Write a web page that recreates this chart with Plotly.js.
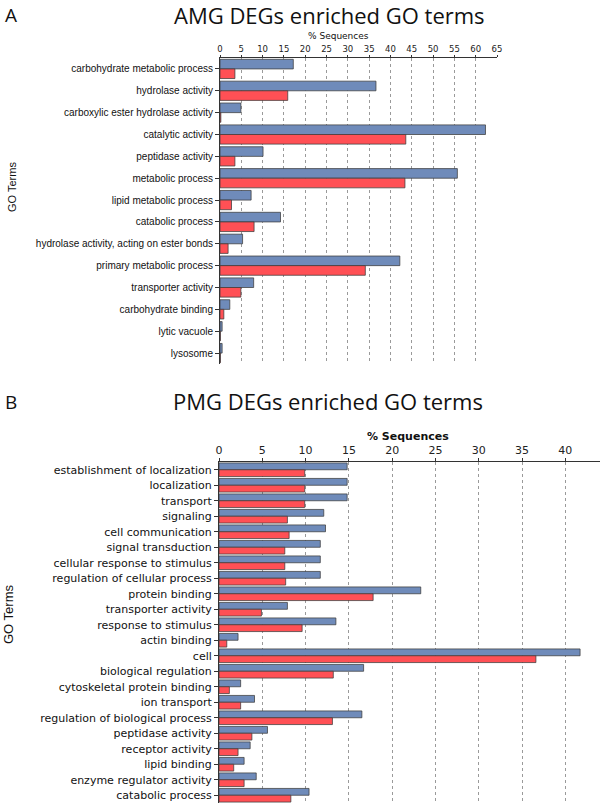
<!DOCTYPE html>
<html>
<head>
<meta charset="utf-8">
<script src="https://cdn.plot.ly/plotly-3.0.1.min.js"></script>
<style>html,body{margin:0;padding:0;background:#fff;}#chart{width:600px;height:803px;}</style>
</head>
<body>
<div id="chart"></div>
<script>
// ---- Data: panel A (AMG) ----
var amgTerms = [
  "carbohydrate metabolic process",
  "hydrolase activity",
  "carboxylic ester hydrolase activity",
  "catalytic activity",
  "peptidase activity",
  "metabolic process",
  "lipid metabolic process",
  "catabolic process",
  "hydrolase activity, acting on ester bonds",
  "primary metabolic process",
  "transporter activity",
  "carbohydrate binding",
  "lytic vacuole",
  "lysosome"
];
var amgBlue = [17.2, 36.6, 4.9, 62.3, 10.1, 55.7, 7.3, 14.2, 5.3, 42.2, 7.9, 2.3, 0.5, 0.5];
var amgRed  = [3.5, 15.9, 0.2, 43.6, 3.5, 43.4, 2.7, 8.0, 1.9, 34.1, 4.9, 0.9, 0.1, 0.1];
var amgTicks = [0,5,10,15,20,25,30,35,40,45,50,55,60,65];

// ---- Data: panel B (PMG) ----
var pmgTerms = [
  "establishment of localization",
  "localization",
  "transport",
  "signaling",
  "cell communication",
  "signal transduction",
  "cellular response to stimulus",
  "regulation of cellular process",
  "protein binding",
  "transporter activity",
  "response to stimulus",
  "actin binding",
  "cell",
  "biological regulation",
  "cytoskeletal protein binding",
  "ion transport",
  "regulation of biological process",
  "peptidase activity",
  "receptor activity",
  "lipid binding",
  "enzyme regulator activity",
  "catabolic process"
];
var pmgBlue = [14.8, 14.8, 14.8, 12.1, 12.3, 11.7, 11.7, 11.7, 23.3, 7.9, 13.5, 2.2, 41.7, 16.7, 2.5, 4.1, 16.5, 5.6, 3.6, 2.9, 4.3, 10.4];
var pmgRed  = [9.9, 9.9, 9.9, 7.9, 8.1, 7.6, 7.6, 7.7, 17.8, 4.9, 9.6, 0.9, 36.6, 13.2, 1.2, 2.5, 13.1, 3.8, 2.2, 1.7, 2.9, 8.3];
var pmgTicks = [0,5,10,15,20,25,30,35,40];

// ---- styling helpers ----
var W = 600, H = 803;
function px(x){ return x / W; }
function py(y){ return 1 - y / H; }
var BLUE = "#6F8BBA", RED = "#FF5055";
var OUT = "rgba(60,60,60,0.75)";

var traces = [
  {type:"bar", orientation:"h", y:amgTerms, x:amgBlue, xaxis:"x", yaxis:"y",
   marker:{color:BLUE, line:{color:OUT, width:1}}, hoverinfo:"x+y"},
  {type:"bar", orientation:"h", y:amgTerms, x:amgRed, xaxis:"x", yaxis:"y",
   marker:{color:RED, line:{color:OUT, width:1}}, hoverinfo:"x+y"},
  {type:"bar", orientation:"h", y:pmgTerms, x:pmgBlue, xaxis:"x2", yaxis:"y2",
   marker:{color:BLUE, line:{color:OUT, width:1}}, hoverinfo:"x+y"},
  {type:"bar", orientation:"h", y:pmgTerms, x:pmgRed, xaxis:"x2", yaxis:"y2",
   marker:{color:RED, line:{color:OUT, width:1}}, hoverinfo:"x+y"}
];

var gridStyle = {showgrid:true, gridcolor:"#9a9a9a", griddash:"dot", gridwidth:1};

var layout = {
  width: W, height: H,
  margin:{l:0, r:0, t:0, b:0},
  paper_bgcolor:"#fff", plot_bgcolor:"#fff",
  showlegend:false,
  barmode:"group", bargap:0.12, bargroupgap:0,
  font:{family:"DejaVu Sans, sans-serif", color:"#111"},
  xaxis: Object.assign({
    domain:[px(220), px(497)], range:[0,65], side:"top", anchor:"y",
    tickmode:"array", tickvals:amgTicks, ticktext:amgTicks.map(String),
    ticks:"outside", ticklen:2, tickcolor:"#333",
    showline:true, linecolor:"#333", linewidth:1, zeroline:false,
    tickfont:{family:"DejaVu Sans", size:8.5, color:"#222"}
  }, gridStyle),
  yaxis: {
    domain:[py(364), py(58)], autorange:"reversed", anchor:"x",
    type:"category", ticks:"outside", ticklen:4, tickcolor:"#333",
    showline:true, linecolor:"#333", linewidth:1, showgrid:false,
    tickfont:{family:"Liberation Sans", size:10, color:"#111"}
  },
  xaxis2: Object.assign({
    domain:[px(219), 1], range:[0,44], side:"top", anchor:"y2",
    tickmode:"array", tickvals:pmgTicks, ticktext:pmgTicks.map(String),
    ticks:"outside", ticklen:3, tickcolor:"#333",
    showline:true, linecolor:"#333", linewidth:1, zeroline:false,
    tickfont:{family:"DejaVu Sans", size:11, color:"#222"}
  }, gridStyle),
  yaxis2: {
    domain:[0, py(462)], autorange:"reversed", anchor:"x2",
    type:"category", ticks:"outside", ticklen:4, tickcolor:"#333",
    showline:true, linecolor:"#333", linewidth:1, showgrid:false,
    tickfont:{family:"DejaVu Sans", size:11, color:"#111"}
  },
  annotations:[
    {text:"A", xref:"paper", yref:"paper", x:px(3), y:py(15), xanchor:"left", yanchor:"middle",
     showarrow:false, font:{family:"Open Sans", size:19, color:"#111"}},
    {text:"AMG DEGs enriched GO terms", xref:"paper", yref:"paper", x:px(329), y:py(15), xanchor:"center", yanchor:"middle",
     showarrow:false, font:{family:"Open Sans", size:22, color:"#111"}},
    {text:"% Sequences", xref:"paper", yref:"paper", x:px(338), y:py(36), xanchor:"center", yanchor:"middle",
     showarrow:false, font:{family:"DejaVu Sans", size:9, color:"#111"}},
    {text:"GO Terms", xref:"paper", yref:"paper", x:px(12), y:py(187), xanchor:"center", yanchor:"middle",
     textangle:-90, showarrow:false, font:{family:"Liberation Sans", size:11, color:"#111"}},
    {text:"B", xref:"paper", yref:"paper", x:px(3), y:py(402), xanchor:"left", yanchor:"middle",
     showarrow:false, font:{family:"Open Sans", size:19, color:"#111"}},
    {text:"PMG DEGs enriched GO terms", xref:"paper", yref:"paper", x:px(328), y:py(401), xanchor:"center", yanchor:"middle",
     showarrow:false, font:{family:"Open Sans", size:22, color:"#111"}},
    {text:"<b>% Sequences</b>", xref:"paper", yref:"paper", x:px(408), y:py(437), xanchor:"center", yanchor:"middle",
     showarrow:false, font:{family:"DejaVu Sans", size:11, color:"#111"}},
    {text:"GO Terms", xref:"paper", yref:"paper", x:px(8), y:py(615), xanchor:"center", yanchor:"middle",
     textangle:-90, showarrow:false, font:{family:"Liberation Sans", size:13, color:"#111"}}
  ]
};

Plotly.newPlot("chart", traces, layout, {displayModeBar:false, staticPlot:true});
</script>
</body>
</html>
